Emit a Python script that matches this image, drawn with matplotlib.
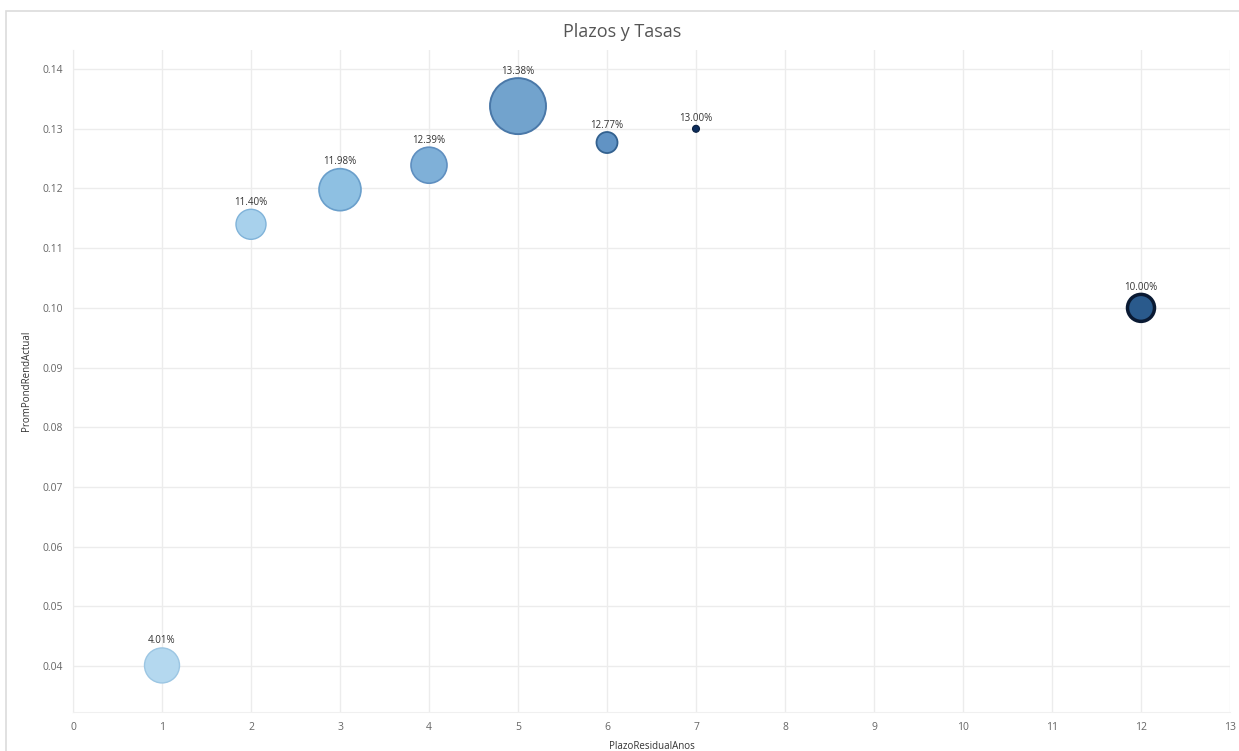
import matplotlib
matplotlib.use("Agg")
import matplotlib.pyplot as plt
from matplotlib.patches import Rectangle

# data
plazo = [1, 2, 3, 4, 5, 6, 7, 12]
tasa = [0.0401, 0.1140, 0.1198, 0.1239, 0.1338, 0.1277, 0.1300, 0.1000]
etiquetas = ["4.01%", "11.40%", "11.98%", "12.39%", "13.38%", "12.77%", "13.00%", "10.00%"]
peso = [635, 467, 914, 672, 1625, 229, 25, 378]   # bubble area (relative weight)
relleno = ["#b4d8ef", "#a8d1ec", "#8ec0e2", "#7fb0d8", "#72a3cd", "#6193c4", "#0d2d5c", "#2a5a8c"]
borde = ["#9cc6e3", "#80b3d9", "#6a9fcb", "#5f8fc0", "#4a78a8", "#33618f", "#0a1f40", "#0a1a33"]
grosor = [1.0, 1.0, 1.2, 1.2, 1.4, 1.3, 0.8, 2.5]

plt.rcParams["font.family"] = ["Open Sans", "DejaVu Sans"]

fig = plt.figure(figsize=(12.39, 7.51), dpi=100)
fig.patches.append(Rectangle((6 / 1239, -0.01), 1.0, 1 - 11 / 751 + 0.01,
                             transform=fig.transFigure, fill=False,
                             edgecolor="#dcdcdc", lw=1.2))
ax = fig.add_axes([73 / 1239, 1 - 712 / 751, (1230 - 73) / 1239, (712 - 50) / 751])

ax.scatter(plazo, tasa, s=peso, c=relleno, edgecolors=borde, linewidths=grosor,
           zorder=3)
for x, y, txt, s in zip(plazo, tasa, etiquetas, peso):
    r_pt = s ** 0.5 / 2
    ax.annotate(txt, (x, y), textcoords="offset points", xytext=(0, r_pt + 5),
                ha="center", va="center", fontsize=7, color="#333333")

ax.set_xlim(0, 13)
ax.set_ylim(0.0323, 0.1432)
ax.set_xticks(range(0, 14))
ax.set_yticks([0.04, 0.05, 0.06, 0.07, 0.08, 0.09, 0.10, 0.11, 0.12, 0.13, 0.14])
ax.set_yticklabels([f"{v:.2f}" for v in ax.get_yticks()])
ax.tick_params(length=0, labelsize=7.5, labelcolor="#666666", pad=7)
ax.grid(True, color="#ececec", lw=1)
ax.set_axisbelow(True)
for sp in ax.spines.values():
    sp.set_visible(False)
ax.spines["left"].set_visible(True)
ax.spines["left"].set_color("#ececec")
ax.spines["bottom"].set_visible(True)
ax.spines["bottom"].set_color("#f0f0f0")

ax.set_xlabel("PlazoResidualAnos", fontsize=7, color="#333333", labelpad=6)
ax.set_ylabel("PromPondRendActual", fontsize=7, color="#333333", labelpad=8)
fig.text(0.502, 1 - 32 / 751, "Plazos y Tasas", ha="center", va="center",
         fontsize=13, color="#555555")

fig.savefig("out.png", dpi=100)
